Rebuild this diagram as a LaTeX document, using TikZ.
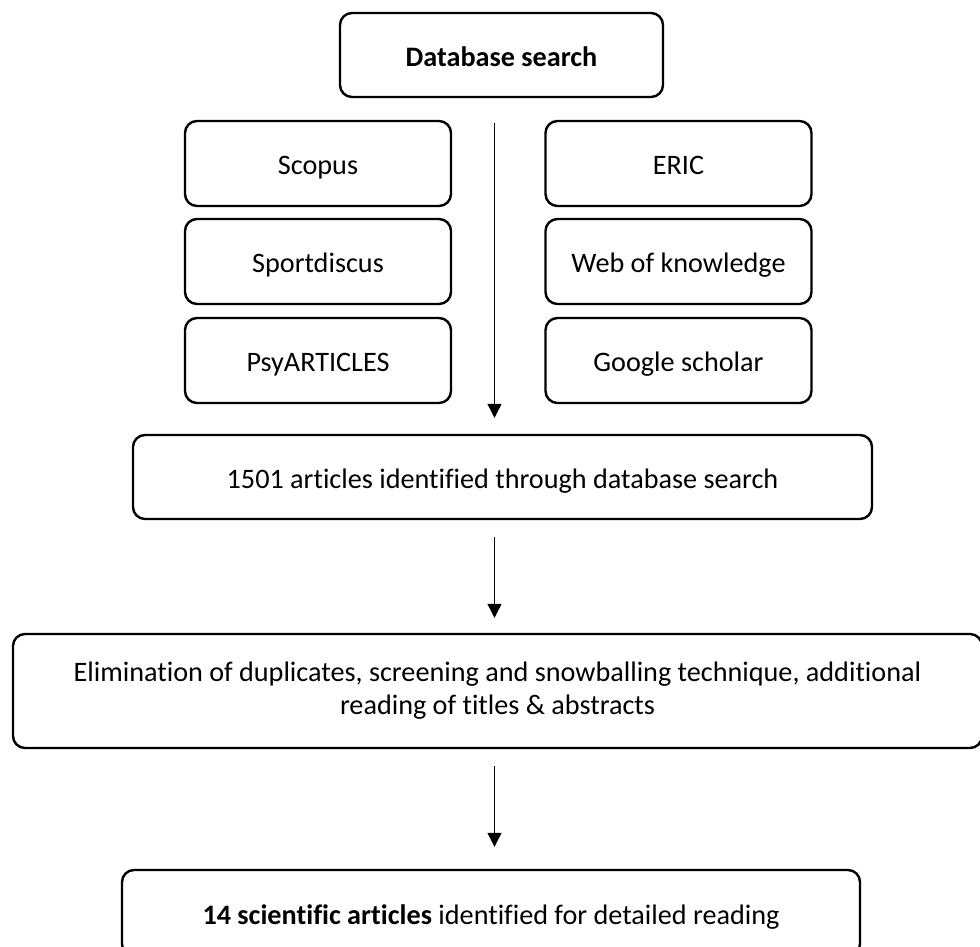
\documentclass[tikz,border=0pt]{standalone}
\usepackage{fontspec}
\setmainfont[RawFeature=-liga]{Carlito}
\usetikzlibrary{arrows.meta}

\begin{document}
\begin{tikzpicture}[
        x=1pt, y=-1pt,
        box/.style={draw, rounded corners=12pt, line width=2.4pt, align=center,
                inner sep=0pt, font=\fontsize{28.2}{33}\selectfont},
        onebox/.style={box, text height=24pt, text depth=2pt},
        dbbox/.style={onebox, minimum width=266pt, minimum height=85pt},
        flow/.style={-{Triangle[length=14pt,width=14pt]}, line width=1.1pt}
    ]
    \useasboundingbox (0, 0) rectangle (980, 946);
    \clip (0, 0) rectangle (980, 946);

    % Suche
    \node[onebox, minimum width=323pt, minimum height=84pt, font=\fontsize{28.2}{33}\selectfont\bfseries]
        (search) at (501.5, 55) {Database search};

    % Datenbanken
    \node[dbbox] (scopus) at (318, 163.5) {Scopus};
    \node[dbbox] (sport)  at (318, 261.5) {Sportdiscus};
    \node[dbbox] (psy)    at (318, 360.5) {PsyARTICLES};
    \node[dbbox] (eric)   at (678.5, 163.5) {ERIC};
    \node[dbbox] (wok)    at (678.5, 261.5) {Web of knowledge};
    \node[dbbox] (google) at (678.5, 360.5) {Google scholar};

    % Ergebnisse
    \node[onebox, minimum width=739pt, minimum height=84pt] (hits) at (502.5, 477)
        {1501 articles identified through database search};
    \node[box, minimum width=969pt, minimum height=114pt] (screen) at (497.5, 691)
        {Elimination of duplicates, screening and snowballing technique, additional\\reading of titles \& abstracts};
    \node[onebox, minimum width=738pt, minimum height=86pt] (final) at (491, 913)
        {\textbf{14 scientific articles} identified for detailed reading};

    % Pfeile
    \coordinate (axis) at (494.5, 0);
    \draw[flow, shorten <=25pt, shorten >=16pt] (search.south -| axis) -- (hits.north -| axis);
    \draw[flow, shorten <=17pt, shorten >=15pt] (hits.south -| axis) -- (screen.north -| axis);
    \draw[flow, shorten <=17pt, shorten >=22pt] (screen.south -| axis) -- (final.north -| axis);
\end{tikzpicture}
\end{document}
